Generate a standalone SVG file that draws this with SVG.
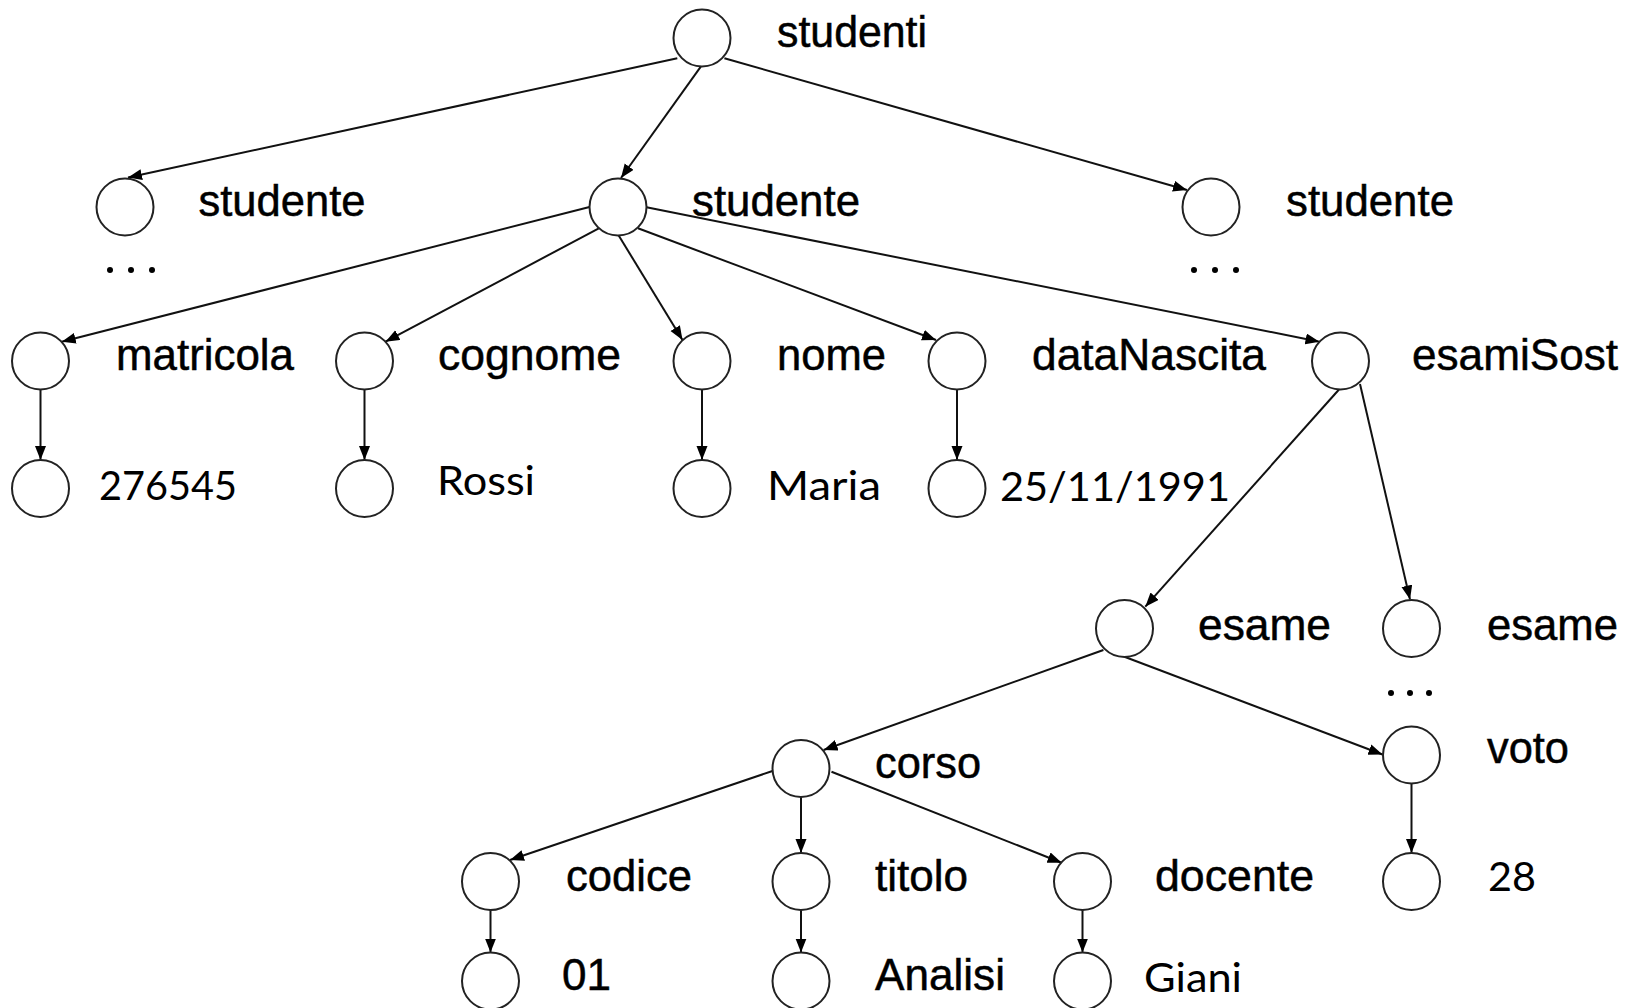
<svg xmlns="http://www.w3.org/2000/svg" width="1636" height="1008" viewBox="0 0 1636 1008">
<style>
.n{fill:#fff;stroke:#222;stroke-width:2}
.e{stroke:#111;stroke-width:2;fill:none;marker-end:url(#ah)}
.h{font-family:"Liberation Sans",Arial,Helvetica,sans-serif;font-size:44px;fill:#000;stroke:#000;stroke-width:0.5}
.c{font-family:Lato,"Open Sans","Noto Sans",sans-serif;font-size:41px;fill:#000}
.d{fill:#000}
</style>
<defs>
<marker id="ah" markerUnits="userSpaceOnUse" markerWidth="16" markerHeight="12" refX="14" refY="5.5" orient="auto">
<path d="M0,0 L14,5.5 L0,11 z" fill="#000"/>
</marker>
</defs>
<rect width="1636" height="1008" fill="#fff"/>
<g id="connectors">
<line class="e" x1="677.3" y1="58.3" x2="128" y2="177.5"/>
<line class="e" x1="700.8" y1="66.7" x2="621" y2="178"/>
<line class="e" x1="724.4" y1="58.3" x2="1187" y2="190"/>
<line class="e" x1="589.5" y1="207" x2="61.7" y2="341.7"/>
<line class="e" x1="598.8" y1="228.3" x2="385.5" y2="341.7"/>
<line class="e" x1="618.7" y1="235.5" x2="682.5" y2="340"/>
<line class="e" x1="638" y1="228.3" x2="936" y2="340"/>
<line class="e" x1="646.5" y1="207.3" x2="1319.5" y2="341.7"/>
<line class="e" x1="40.5" y1="389.5" x2="40.5" y2="460"/>
<line class="e" x1="364.5" y1="389.5" x2="364.5" y2="460"/>
<line class="e" x1="702" y1="389.5" x2="702" y2="460"/>
<line class="e" x1="957" y1="389.5" x2="957" y2="460"/>
<line class="e" x1="1339" y1="389.5" x2="1145.3" y2="606.7"/>
<line class="e" x1="1360" y1="384" x2="1410" y2="599.5"/>
<line class="e" x1="1103.4" y1="650" x2="823.6" y2="750"/>
<line class="e" x1="1124.4" y1="656.7" x2="1382.5" y2="754.5"/>
<line class="e" x1="772.5" y1="771" x2="510" y2="860"/>
<line class="e" x1="801" y1="797" x2="801" y2="853"/>
<line class="e" x1="831.5" y1="771.7" x2="1061.6" y2="862.7"/>
<line class="e" x1="1411.5" y1="783.5" x2="1411.5" y2="853"/>
<line class="e" x1="490.5" y1="910" x2="490.5" y2="952.5"/>
<line class="e" x1="801" y1="910" x2="801" y2="952.5"/>
<line class="e" x1="1082.5" y1="910" x2="1082.5" y2="952.5"/>
</g>
<g id="studenti"><circle class="n" cx="702" cy="38" r="28.5"/><text class="h" x="777" y="47" textLength="150" lengthAdjust="spacingAndGlyphs">studenti</text></g>
<g id="studente1"><circle class="n" cx="125" cy="207" r="28.5"/><text class="h" x="198.5" y="216" textLength="167" lengthAdjust="spacingAndGlyphs">studente</text>
<circle class="d" cx="110" cy="270" r="3"/><circle class="d" cx="131" cy="270" r="3"/><circle class="d" cx="152" cy="270" r="3"/></g>
<g id="studente2"><circle class="n" cx="618" cy="207" r="28.5"/><text class="h" x="692" y="216" textLength="168" lengthAdjust="spacingAndGlyphs">studente</text></g>
<g id="studente3"><circle class="n" cx="1211" cy="207" r="28.5"/><text class="h" x="1286" y="216" textLength="168" lengthAdjust="spacingAndGlyphs">studente</text>
<circle class="d" cx="1194" cy="270" r="3"/><circle class="d" cx="1215" cy="270" r="3"/><circle class="d" cx="1236" cy="270" r="3"/></g>
<g id="matricola"><circle class="n" cx="40.5" cy="361" r="28.5"/><text class="h" x="116" y="370" textLength="178" lengthAdjust="spacingAndGlyphs">matricola</text></g>
<g id="cognome"><circle class="n" cx="364.5" cy="361" r="28.5"/><text class="h" x="438" y="370" textLength="183" lengthAdjust="spacingAndGlyphs">cognome</text></g>
<g id="nome"><circle class="n" cx="702" cy="361" r="28.5"/><text class="h" x="777" y="370" textLength="109" lengthAdjust="spacingAndGlyphs">nome</text></g>
<g id="dataNascita"><circle class="n" cx="957" cy="361" r="28.5"/><text class="h" x="1032" y="370" textLength="234" lengthAdjust="spacingAndGlyphs">dataNascita</text></g>
<g id="esamiSost"><circle class="n" cx="1340.5" cy="361" r="28.5"/><text class="h" x="1412" y="370" textLength="206" lengthAdjust="spacingAndGlyphs">esamiSost</text></g>
<g id="v276545"><circle class="n" cx="40.5" cy="488.5" r="28.5"/><text class="c" x="99" y="500" textLength="138" lengthAdjust="spacingAndGlyphs">276545</text></g>
<g id="vRossi"><circle class="n" cx="364.5" cy="488.5" r="28.5"/><text class="c" x="437" y="495" textLength="98" lengthAdjust="spacingAndGlyphs">Rossi</text></g>
<g id="vMaria"><circle class="n" cx="702" cy="488.5" r="28.5"/><text class="c" x="767" y="500" textLength="114" lengthAdjust="spacingAndGlyphs">Maria</text></g>
<g id="vData"><circle class="n" cx="957" cy="488.5" r="28.5"/><text class="c" x="1000" y="501" textLength="230" lengthAdjust="spacingAndGlyphs">25/11/1991</text></g>
<g id="esame1"><circle class="n" cx="1124.5" cy="628.5" r="28.5"/><text class="h" x="1198" y="640" textLength="133" lengthAdjust="spacingAndGlyphs">esame</text></g>
<g id="esame2"><circle class="n" cx="1411.5" cy="628.5" r="28.5"/><text class="h" x="1487" y="640" textLength="131" lengthAdjust="spacingAndGlyphs">esame</text>
<circle class="d" cx="1391" cy="693" r="3"/><circle class="d" cx="1410" cy="693" r="3"/><circle class="d" cx="1429" cy="693" r="3"/></g>
<g id="voto"><circle class="n" cx="1411.5" cy="755" r="28.5"/><text class="h" x="1487" y="763" textLength="82" lengthAdjust="spacingAndGlyphs">voto</text></g>
<g id="v28"><circle class="n" cx="1411.5" cy="881.5" r="28.5"/><text class="c" x="1488" y="891" textLength="48" lengthAdjust="spacingAndGlyphs">28</text></g>
<g id="corso"><circle class="n" cx="801" cy="768.5" r="28.5"/><text class="h" x="875" y="778" textLength="106" lengthAdjust="spacingAndGlyphs">corso</text></g>
<g id="codice"><circle class="n" cx="490.5" cy="881.5" r="28.5"/><text class="h" x="566" y="891" textLength="126" lengthAdjust="spacingAndGlyphs">codice</text></g>
<g id="titolo"><circle class="n" cx="801" cy="881.5" r="28.5"/><text class="h" x="875" y="891" textLength="93" lengthAdjust="spacingAndGlyphs">titolo</text></g>
<g id="docente"><circle class="n" cx="1082.5" cy="881.5" r="28.5"/><text class="h" x="1155" y="891" textLength="159" lengthAdjust="spacingAndGlyphs">docente</text></g>
<g id="v01"><circle class="n" cx="490.5" cy="981" r="28.5"/><text class="h" x="562" y="990" textLength="49" lengthAdjust="spacingAndGlyphs">01</text></g>
<g id="vAnalisi"><circle class="n" cx="801" cy="981" r="28.5"/><text class="h" x="875" y="990" textLength="130" lengthAdjust="spacingAndGlyphs">Analisi</text></g>
<g id="vGiani"><circle class="n" cx="1082.5" cy="981" r="28.5"/><text class="c" x="1144" y="992" textLength="98" lengthAdjust="spacingAndGlyphs">Giani</text></g>
</svg>
